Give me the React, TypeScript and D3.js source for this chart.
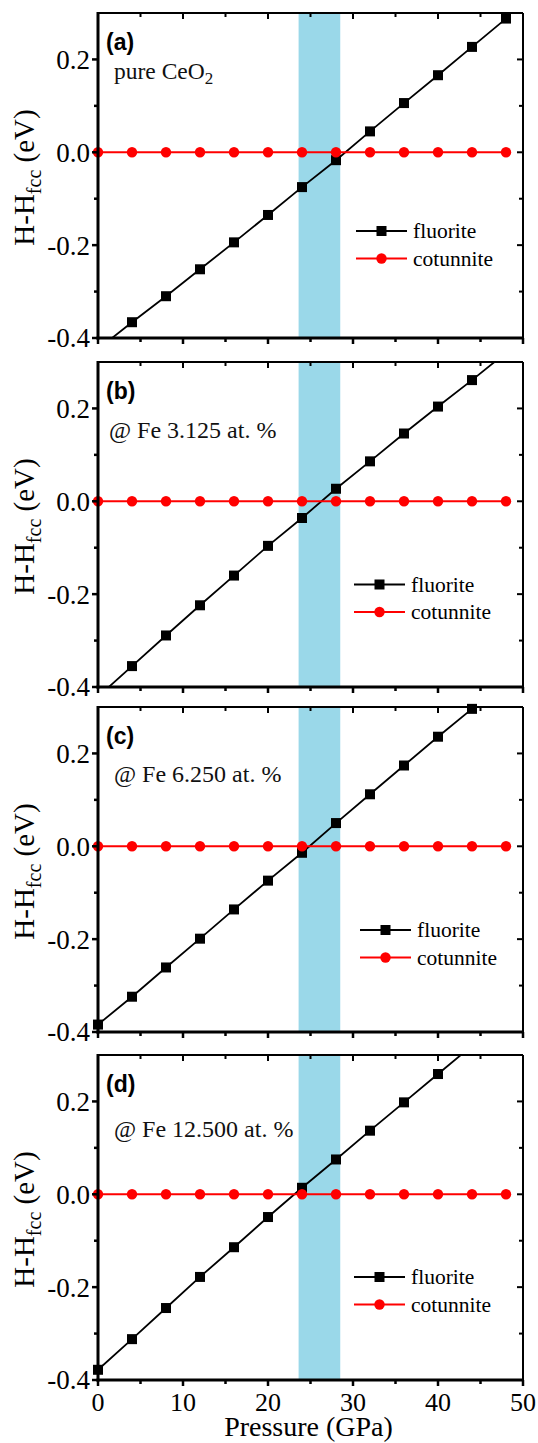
import React from 'react';
import * as d3 from 'd3';

// ---------- data ----------
const pressure = [0, 4, 8, 12, 16, 20, 24, 28, 32, 36, 40, 44, 48];
const fluoriteA = [-0.424, -0.366, -0.310, -0.252, -0.194, -0.135, -0.075, -0.017, 0.045, 0.106, 0.166, 0.227, 0.288];
const fluoriteB = [-0.421, -0.355, -0.289, -0.224, -0.160, -0.096, -0.036, 0.027, 0.086, 0.146, 0.204, 0.261, 0.320];
const fluoriteC = [-0.384, -0.324, -0.261, -0.199, -0.136, -0.074, -0.014, 0.050, 0.112, 0.174, 0.236, 0.296, 0.357];
const fluoriteD = [-0.378, -0.312, -0.245, -0.178, -0.114, -0.049, 0.014, 0.075, 0.137, 0.198, 0.259, 0.320, 0.381];
const cotunnite = [0, 0, 0, 0, 0, 0, 0, 0, 0, 0, 0, 0, 0];
const panelLabels = ['(a)', '(b)', '(c)', '(d)'];
const panelNotes = ['pure CeO', '@ Fe 3.125 at. %', '@ Fe 6.250 at. %', '@ Fe 12.500 at. %'];
const seriesNames = ['fluorite', 'cotunnite'];
const xMajorTicks = [0, 10, 20, 30, 40, 50];
const xMinorTicks = [5, 15, 25, 35, 45];
const yMajorTicks = [-0.4, -0.2, 0.0, 0.2];
const yMinorTicks = [-0.3, -0.1, 0.1];
const bandRange = [23.6, 28.5];
const xDomain = [0, 50];
const yDomain = [-0.4, 0.3];

const fluoriteSets = [fluoriteA, fluoriteB, fluoriteC, fluoriteD];

// ---------- layout ----------
const W = 538;
const H = 1443;
const X0 = 98;
const X1 = 523;
const panelTops = [13, 362, 707, 1055];
const PH = 325;
const legendX = [356, 354, 360, 354];
const legendY = [218, 222.5, 223, 222];
const noteX = [114, 109, 114, 114];
const noteY = [66, 76, 75, 82];
const SERIF = 'Liberation Serif, DejaVu Serif, serif';
const SANS = 'Liberation Sans, Arial, sans-serif';

const xScale = d3.scaleLinear().domain(xDomain).range([X0, X1]);

function Panel({ idx }: { idx: number }) {
  const top = panelTops[idx];
  const bottom = top + PH;
  const y = d3.scaleLinear().domain(yDomain).range([bottom, top]);
  const fl = fluoriteSets[idx];
  const lineGen = d3
    .line<number>()
    .x((_, i) => xScale(pressure[i]))
    .y((d) => y(d));
  const clipId = `clip-${idx}`;
  const inY = (v: number) => v >= yDomain[0] - 1e-9 && v <= yDomain[1] + 1e-9;
  const isLast = idx === 3;
  const lx = legendX[idx];
  const ly = top + legendY[idx];
  const sq = 10;
  const serif = { fontFamily: SERIF };
  return (
    <g>
      <defs>
        <clipPath id={clipId}>
          <rect x={X0} y={top} width={X1 - X0} height={PH} />
        </clipPath>
      </defs>
      <rect
        x={xScale(bandRange[0])}
        y={top}
        width={xScale(bandRange[1]) - xScale(bandRange[0])}
        height={PH}
        fill="#9ad8e9"
      />
      <g clipPath={`url(#${clipId})`}>
        <path d={lineGen(fl) || ''} fill="none" stroke="#000" strokeWidth={1.8} />
        <path d={lineGen(cotunnite) || ''} fill="none" stroke="#ff0000" strokeWidth={2} />
      </g>
      {fl.map((v, i) =>
        inY(v) ? (
          <rect
            key={`f${i}`}
            x={xScale(pressure[i]) - sq / 2}
            y={y(v) - sq / 2}
            width={sq}
            height={sq}
            fill="#000"
          />
        ) : null
      )}
      {cotunnite.map((v, i) =>
        inY(v) ? <circle key={`c${i}`} cx={xScale(pressure[i])} cy={y(v)} r={5.2} fill="#ff0000" /> : null
      )}
      <line x1={X0} x2={X1} y1={top} y2={top} stroke="#000" strokeWidth={2} />
      <line x1={X1} x2={X1} y1={top} y2={bottom} stroke="#000" strokeWidth={2} />
      <line x1={X0} x2={X0} y1={top - 1} y2={bottom + 1.5} stroke="#000" strokeWidth={3} />
      <line x1={X0 - 1.5} x2={X1 + 1} y1={bottom} y2={bottom} stroke="#000" strokeWidth={3} />
      {xMajorTicks.map((t) => (
        <g key={`xM${t}`}>
          <line x1={xScale(t)} x2={xScale(t)} y1={bottom} y2={bottom + 6} stroke="#000" strokeWidth={2.5} />
          <line x1={xScale(t)} x2={xScale(t)} y1={top} y2={top + 6} stroke="#000" strokeWidth={2} />
        </g>
      ))}
      {xMinorTicks.map((t) => (
        <g key={`xm${t}`}>
          <line x1={xScale(t)} x2={xScale(t)} y1={bottom} y2={bottom + 4} stroke="#000" strokeWidth={2.5} />
          <line x1={xScale(t)} x2={xScale(t)} y1={top} y2={top + 4} stroke="#000" strokeWidth={2} />
        </g>
      ))}
      {yMajorTicks.map((t) => (
        <g key={`yM${t}`}>
          <line x1={X0 - 6} x2={X0} y1={y(t)} y2={y(t)} stroke="#000" strokeWidth={2.5} />
          <line x1={X1 - 6} x2={X1} y1={y(t)} y2={y(t)} stroke="#000" strokeWidth={2} />
          <text x={X0 - 8} y={y(t)} dy="0.35em" textAnchor="end" style={serif} fontSize={27} fill="#000">
            {d3.format('.1f')(t).replace('−', '-')}
          </text>
        </g>
      ))}
      {yMinorTicks.map((t) => (
        <g key={`ym${t}`}>
          <line x1={X0 - 4} x2={X0} y1={y(t)} y2={y(t)} stroke="#000" strokeWidth={2.5} />
          <line x1={X1 - 4} x2={X1} y1={y(t)} y2={y(t)} stroke="#000" strokeWidth={2} />
        </g>
      ))}
      {isLast &&
        xMajorTicks.map((t) => (
          <text key={`xl${t}`} x={xScale(t)} y={bottom + 31} textAnchor="middle" style={serif} fontSize={26} fill="#000">
            {t}
          </text>
        ))}
      {isLast && (
        <text x={(X0 + X1) / 2 - 2} y={H - 7} textAnchor="middle" style={serif} fontSize={28} fill="#000">
          Pressure (GPa)
        </text>
      )}
      <text
        transform={`translate(34, ${top + PH / 2 + 2}) rotate(-90)`}
        textAnchor="middle"
        style={serif}
        fontSize={29}
        fill="#000"
      >
        <tspan>H-H</tspan>
        <tspan fontSize={20} dy={7}>
          fcc
        </tspan>
        <tspan dy={-7}> (eV)</tspan>
      </text>
      <text x={106} y={top + 37} style={{ fontFamily: SANS }} fontWeight="bold" fontSize={23} fill="#000">
        {panelLabels[idx]}
      </text>
      <text x={noteX[idx]} y={top + noteY[idx]} style={serif} fontSize={idx === 0 ? 23.5 : 24} fill="#111">
        {panelNotes[idx]}
        {idx === 0 && (
          <tspan fontSize={17} dy={5}>
            2
          </tspan>
        )}
      </text>
      <g>
        <line x1={lx} x2={lx + 51} y1={ly} y2={ly} stroke="#000" strokeWidth={1.8} />
        <rect x={lx + 25.5 - 5} y={ly - 5} width={10} height={10} fill="#000" />
        <text x={lx + 57} y={ly + 7} style={serif} fontSize={21.5} fill="#000">
          {seriesNames[0]}
        </text>
        <line x1={lx} x2={lx + 51} y1={ly + 27.5} y2={ly + 27.5} stroke="#ff0000" strokeWidth={2} />
        <circle cx={lx + 25.5} cy={ly + 27.5} r={5.2} fill="#ff0000" />
        <text x={lx + 57} y={ly + 27.5 + 7} style={serif} fontSize={21.5} fill="#000">
          {seriesNames[1]}
        </text>
      </g>
    </g>
  );
}

export default function App() {
  return (
    <svg
      width={W}
      height={H}
      viewBox={`0 0 ${W} ${H}`}
      style={{ position: 'absolute', left: 0, top: 0, background: '#fff' }}
    >
      <rect x={0} y={0} width={W} height={H} fill="#fff" />
      {panelTops.map((_, i) => (
        <Panel key={i} idx={i} />
      ))}
    </svg>
  );
}
